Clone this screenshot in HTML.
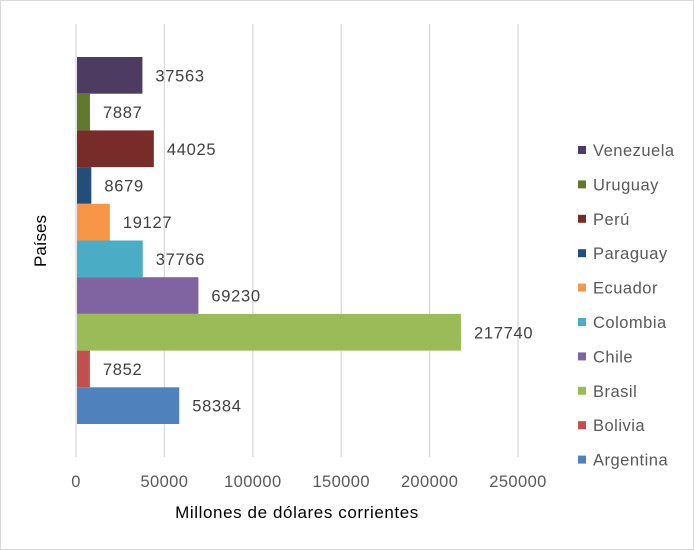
<!DOCTYPE html>
<html><head><meta charset="utf-8"><style>
body{margin:0;background:#fff}
svg{display:block;font-family:"Liberation Sans",Calibri,sans-serif}
</style></head><body>
<svg width="694" height="550">
<rect x="0.5" y="0.5" width="693" height="549" fill="#fff" stroke="#d9d9d9"/>
<g id="grid"></g><g id="bars"></g><g id="labels"></g><g id="ticks"></g><g id="legend"></g>
<text x="297" y="518" font-size="17" letter-spacing="0.6" fill="#000" text-anchor="middle">Millones de dólares corrientes</text>
<text transform="translate(46,241) rotate(-90)" font-size="17" fill="#000" text-anchor="middle">Países</text>
</svg>
<script>
const categories=["Venezuela","Uruguay","Perú","Paraguay","Ecuador","Colombia","Chile","Brasil","Bolivia","Argentina"];
const values=[37563,7887,44025,8679,19127,37766,69230,217740,7852,58384];
const colors=["#4e3b62","#62772f","#772c2a","#254d7a","#f79646","#4bacc6","#8064a2","#9bbb59","#c0504d","#4f81bd"];
const ticks=[0,50000,100000,150000,200000,250000];
const NS="http://www.w3.org/2000/svg";
const x0=76,pxPer=88.4/50000,top0=57,band=36.7;
const xs=v=>x0+v*pxPer;
function mk(t,a,p){const e=document.createElementNS(NS,t);for(const k in a)e.setAttribute(k,a[k]);p.appendChild(e);return e;}
const g=document.getElementById('grid'),b=document.getElementById('bars'),l=document.getElementById('labels'),tk=document.getElementById('ticks'),lg=document.getElementById('legend');
ticks.forEach(t=>{
 const ln=mk('line',{x1:xs(t),x2:xs(t),y1:24,y2:457,stroke:'#d9d9d9','stroke-width':1.3},g);
 
 
 const tx=mk('text',{x:xs(t),y:487,'font-size':16.5,'letter-spacing':0.4,fill:'#595959','text-anchor':'middle'},tk);
 tx.textContent=t;
 
 
});
categories.forEach((c,i)=>{
 const y=top0+i*band;
 const r=mk('rect',{x:x0+1,y:y,width:xs(values[i])-x0-1,height:band,fill:colors[i]},b);
 
 
 const t=mk('text',{x:xs(values[i])+13,y:y+band/2+6,'font-size':16.5,'letter-spacing':0.7,fill:'#404040'},l);
 t.textContent=values[i];
 
 
 const ly=150+i*34.4;
 const s=mk('rect',{x:578,y:ly-4,width:8,height:8,fill:colors[i]},lg);
 
 
 const lt=mk('text',{x:593,y:ly+6,'font-size':16.5,'letter-spacing':0.5,fill:'#595959'},lg);
 lt.textContent=c;
 
 
});
</script>
</body></html>
